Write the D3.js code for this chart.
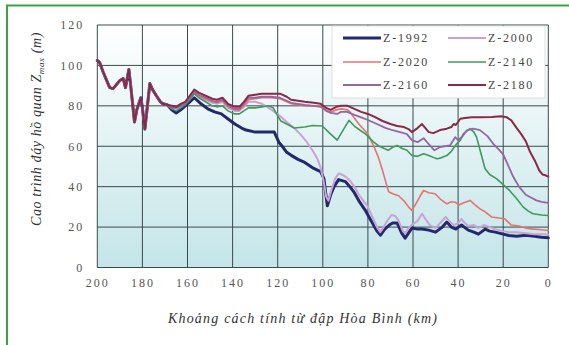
<!DOCTYPE html>
<html>
<head>
<meta charset="utf-8">
<script src="https://cdn.jsdelivr.net/npm/d3@7/dist/d3.min.js"></script>
<style>
  html, body { margin: 0; padding: 0; background: #fff; }
  svg { display: block; }
</style>
</head>
<body>
<svg id="chart" width="569" height="345"></svg>
<script>
// Distance from Hoa Binh dam (km) and bed elevation (m)
const xTicks = [200, 180, 160, 140, 120, 100, 80, 60, 40, 20, 0];
const yTicks = [0, 20, 40, 60, 80, 100, 120];
const seriesNames = ["Z-1992", "Z-2000", "Z-2020", "Z-2140", "Z-2160", "Z-2180"];

// Reach shared by every profile (upstream end)
const upstream = [[200,102.5],[199,101.5],[197.5,97],[196,93],[194.5,89],[193,88.5],[191.5,90.5],[190,92.5],[188.5,93.5],[187.5,89],[186,98],[185,88],[183.5,72],[182.5,78],[180.7,84],[180,79],[178.9,68.5],[176.7,91],[175.5,88],[173.8,85],[172,82],[170.9,81],[169,80.5]];

const z1992 = [[167,78],[165,76.5],[163,78],[161,80],[159,82],[157,84],[154,81],[151,78.5],[148,77],[145,76],[142,73.5],[139,71],[136,69],[134,68],[130,67],[127,67],[124,67],[121.5,67],[119.5,62],[118,60],[116,57],[114,55.5],[111,53.5],[108,52],[104,49],[101,47.5],[99.5,44],[98,30.5],[96.5,36],[95,40],[93,43.5],[90,42.5],[88,40],[86,37],[84,33],[81,28],[78,22],[76,18],[74.4,16],[72.5,19],[70.5,21],[69,22],[67,22],[65,17],[63.5,14.5],[62,17],[60.5,19.5],[58,19],[56,19],[53,18.5],[50,17.5],[47,20],[45,22.5],[43,20],[41,19],[38.5,21],[35.5,18.5],[33,17.5],[31,16.5],[28,19],[26,18],[23.5,17.5],[20,16.5],[17.5,15.8],[14,15.5],[10,16],[6,15.5],[3,15],[0,14.7]];

const z2000 = [[167,79],[165,78.5],[163,80],[161,81],[159,84],[157,86],[155,84.5],[152,83],[149,81.5],[147,81],[144.5,82],[142,79],[139,77.5],[137,77.5],[135,79.5],[133,82],[130,82],[127,81],[124,79],[122,77.5],[119,75],[116,72],[112.7,69],[110,66],[107,62],[104.6,58],[102.5,54],[101,49.5],[99.5,42],[98.5,35],[97.5,33],[96,39],[94.5,44],[93,46.5],[91.5,46],[90,45],[88,43],[86,40],[84,36],[82,33],[80,30],[78,25],[76,20],[74.5,17.5],[73,20],[71.5,23],[69.5,26],[68,25.5],[66.5,23.5],[64.5,18],[63.4,17],[62,19.5],[60,21.5],[58,23],[56,26.6],[54.5,24],[52.5,21],[50,19.5],[48,22],[45.5,25],[44,23],[42,21],[40,22],[38.5,24],[37,22],[35.5,20.5],[33,21],[31,19.5],[28.5,21],[26,20],[23.7,19],[20,18],[17.5,17.5],[14,17.5],[10,17],[6,16.5],[3,16.5],[0,16.3]];

const z2020 = [[167,79.5],[165,79],[163,80.5],[161,81.5],[159,84.5],[157,86.5],[155,85],[152,83.5],[149,82],[147,81.5],[144.5,82.5],[142,79.5],[139,78],[137,78],[135,80],[133,83],[130,83.5],[127,84],[123,84],[119,83.5],[116,82],[114,81],[111,80.5],[108,80],[104,80],[101,80],[98.5,78],[96.5,77],[94,78],[92,78.5],[89,78],[88,77],[86,74],[84,71],[82,68.5],[80,66],[77.4,60],[75.5,55],[73.5,48],[72,42],[70.8,37.5],[69,36.5],[66.4,35.5],[64,33],[62,30],[60.5,28.2],[59,31],[57,35],[55.3,38.1],[53,37],[50.2,36.5],[48,34],[45,31.5],[43,32.5],[41.3,32.3],[39.5,31],[37.5,32],[34.7,33.2],[32.5,31],[30.3,29],[28,27.5],[25.2,25],[22,24.5],[19.3,24.1],[16.4,21],[13,20.5],[10,19.5],[7.5,19.1],[4,18.8],[0,18.3]];

const z2140 = [[167,78.5],[165,77.5],[163,79],[161,80.5],[159,83],[157,86],[155,84],[152,82],[149,80],[147,79.5],[144.5,80],[142,77.5],[139,76],[137,76],[135,77.5],[133,79],[130,79],[127,79.5],[124,80],[122,79],[120,75],[118.6,72.5],[116,71],[112.7,69],[108,69.5],[104.6,70.3],[100.2,70],[97,66.5],[93.6,63],[91,68],[88.4,72.8],[86,70],[83.3,67.8],[81,66],[79.6,64.5],[77.4,62],[75,60],[73,59],[71,58],[69,59.5],[67,60.4],[65,59],[62.7,58],[60.5,55.4],[58,55],[55.3,56.3],[53,55.4],[50,54],[49,53.8],[47,54.5],[45,55.4],[43,57.5],[40.6,61.2],[39,63],[37.6,66.2],[34.7,68.7],[33,67],[31.8,64.5],[30,57],[28.1,49],[26,46],[23,44],[20,41],[17.1,38],[14,34],[11.2,30],[9,28],[6.8,26.6],[3,26],[0,25.7]];

const z2160 = [[167,79],[165,79],[163,80],[161,81],[159,84],[157,87],[155,85.5],[152,84],[149,82.5],[147,82],[144.5,83],[142,80],[139,78.5],[137,78.5],[135,81],[133,84],[130,84],[127,84.5],[123,84.5],[119,84],[116,82.5],[114,81.5],[111,81],[108,80.5],[104,80],[101,79.5],[98.5,77.5],[96.5,76.5],[93.6,76],[92,77],[89.2,77],[86,75.5],[83.3,74.4],[80,73],[76,71],[72,69],[68.6,67.8],[65,66.8],[62.7,66],[60.5,63],[58,62],[55.3,64],[53,61],[50.5,58],[48,59.6],[46,60],[43.6,60.4],[41.3,64.5],[40,63],[38,65],[36.2,67.8],[33.3,68.7],[30.3,68],[27,65],[24.4,61.2],[22,58.5],[20,56],[18,51],[15.6,45],[13,40],[10,36],[7.5,34.5],[5.3,33.2],[3,32.5],[0,32]];

const z2180 = [[167,80],[165,79.5],[163,81],[161,82],[159,85],[157,88],[155,86.5],[152,85],[149,83.5],[147,83],[144.5,84],[142,81],[139,79.5],[137,79.5],[135,82],[133,85],[130,85.5],[127,86],[123,86],[119,86],[116,84.5],[114,83],[111,82.5],[108,82],[104,81.5],[101,81],[98.5,79],[96.5,78],[94,79.5],[92,80],[89,80],[86,78.5],[83,77],[80,76],[77,74.5],[73.5,72.5],[70,71],[67,70],[64,69.5],[62,68.5],[60.5,67],[58,69],[56,71],[54.5,69],[53,67],[51,66.5],[48,68],[45,68.7],[43,69.5],[42,71],[41,70.5],[39,73.6],[37,74],[34,74.4],[30,74.4],[25,74.5],[21,74.8],[18.5,74.4],[16.4,72.8],[14,69],[12,66],[10,62.5],[8,57],[6,53],[4,48],[2.5,46],[1,45.5],[0,45]];

const seriesValues = [z1992, z2000, z2020, z2140, z2160, z2180];
const seriesColors = ["#232a6c", "#c9a2d6", "#e9716f", "#3f9a5e", "#93679f", "#8a2846"];
const seriesWidths = [3, 2, 1.6, 1.6, 1.8, 2];

const svg = d3.select("#chart");
const plot = { left: 97.3, right: 548.3, top: 25, bottom: 267.5 };

// Outer frame (top and left edges)
svg.append("rect")
  .attr("x", 7).attr("y", 5.5).attr("width", 700).attr("height", 500)
  .attr("fill", "none").attr("stroke", "#35a546").attr("stroke-width", 2);

const x = d3.scaleLinear().domain([200, 0]).range([plot.left, plot.right]);
const y = d3.scaleLinear().domain([0, 120]).range([plot.bottom, plot.top]);

// Plot background gradient
const defs = svg.append("defs");
const grad = defs.append("linearGradient").attr("id", "bg")
  .attr("x1", 0).attr("y1", 0).attr("x2", 0).attr("y2", 1);
grad.append("stop").attr("offset", "0%").attr("stop-color", "#ffffff");
grad.append("stop").attr("offset", "100%").attr("stop-color", "#c4e5e8");

svg.append("rect")
  .attr("x", plot.left).attr("y", plot.top)
  .attr("width", plot.right - plot.left).attr("height", plot.bottom - plot.top)
  .attr("fill", "url(#bg)");

// Grid lines
const grid = svg.append("g").attr("stroke", "#3a4a4a").attr("stroke-width", 1);
grid.selectAll("line.v").data(xTicks).join("line").attr("class", "v")
  .attr("x1", d => x(d)).attr("x2", d => x(d))
  .attr("y1", plot.top).attr("y2", plot.bottom);
grid.selectAll("line.h").data(yTicks).join("line").attr("class", "h")
  .attr("x1", plot.left).attr("x2", plot.right)
  .attr("y1", d => y(d)).attr("y2", d => y(d));

// Axes (labels only; lines come from the grid)
const tickFont = "'Liberation Serif', 'DejaVu Serif', serif";
const xAxis = svg.append("g").attr("transform", `translate(0,${plot.bottom})`)
  .call(d3.axisBottom(x).tickValues(xTicks).tickSize(0).tickPadding(11));
const yAxis = svg.append("g").attr("transform", `translate(${plot.left},0)`)
  .call(d3.axisLeft(y).tickValues(yTicks).tickSize(0).tickPadding(13));
[xAxis, yAxis].forEach(a => {
  a.select(".domain").remove();
  a.selectAll("text")
    .attr("font-family", tickFont).attr("font-size", 12)
    .attr("letter-spacing", "2px").attr("fill", "#555");
});

// Profiles
const line = d3.line().x(d => x(d[0])).y(d => y(d[1]));
const lines = svg.append("g").attr("fill", "none")
  .attr("stroke-linejoin", "round").attr("stroke-linecap", "round");
seriesValues.forEach((vals, i) => {
  lines.append("path")
    .datum(upstream.concat(vals))
    .attr("d", line)
    .attr("stroke", seriesColors[i])
    .attr("stroke-width", seriesWidths[i]);
});

// Legend
const leg = svg.append("g");
leg.append("rect")
  .attr("x", 332).attr("y", 26).attr("width", 213).attr("height", 72)
  .attr("fill", "#ffffff").attr("stroke", "#d8d8d8").attr("stroke-width", 0.8);
const legCols = [343, 448];
const legRows = [38, 62, 85];
seriesNames.forEach((name, i) => {
  const cx = legCols[i % 2], cy = legRows[Math.floor(i / 2)];
  leg.append("line")
    .attr("x1", cx).attr("x2", cx + 38).attr("y1", cy).attr("y2", cy)
    .attr("stroke", seriesColors[i]).attr("stroke-width", seriesWidths[i]);
  leg.append("text")
    .attr("x", cx + 40).attr("y", cy + 4)
    .attr("font-family", tickFont).attr("font-size", 12)
    .attr("letter-spacing", "1.8px").attr("fill", "#444")
    .text(name);
});

// Axis titles
svg.append("text")
  .attr("x", 303).attr("y", 323)
  .attr("text-anchor", "middle")
  .attr("font-family", tickFont).attr("font-style", "italic")
  .attr("font-size", 14).attr("letter-spacing", "1.2px").attr("fill", "#333")
  .text("Khoảng cách tính từ đập Hòa Bình (km)");

const yTitle = svg.append("text")
  .attr("transform", "translate(41,129) rotate(-90)")
  .attr("text-anchor", "middle")
  .attr("font-family", tickFont).attr("font-style", "italic")
  .attr("font-size", 14).attr("letter-spacing", "0.6px").attr("fill", "#333");
yTitle.append("tspan").text("Cao trình đáy hồ quan Z");
yTitle.append("tspan").attr("font-size", 9).attr("dy", 3).text("max");
yTitle.append("tspan").attr("dy", -3).text(" (m)");
</script>
</body>
</html>
